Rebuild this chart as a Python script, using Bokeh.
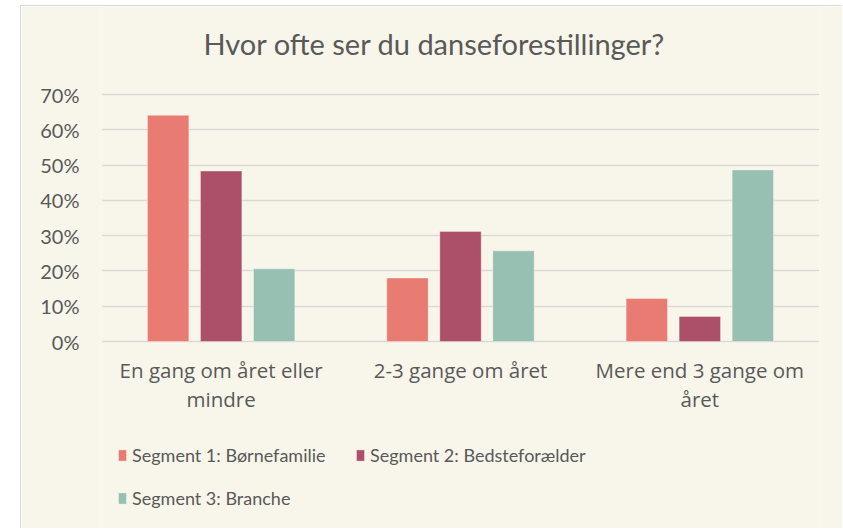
from bokeh.plotting import figure
from bokeh.models import (FactorRange, Range1d, NumeralTickFormatter, FixedTicker,
                          Legend, LegendItem, ColumnDataSource, Label)
from bokeh.transform import dodge
from bokeh.core.properties import value
from bokeh.embed import file_html
from bokeh.resources import INLINE

# ---- data ----
title_text = "Hvor ofte ser du danseforestillinger?"
categories = ["En gang om året eller\nmindre", "2-3 gange om året", "Mere end 3 gange om\nåret"]
series_names = ["Segment 1: Børnefamilie", "Segment 2: Bedsteforælder", "Segment 3: Branche"]
seg1 = [0.641, 0.180, 0.122]
seg2 = [0.483, 0.312, 0.071]
seg3 = [0.206, 0.257, 0.486]
y_ticks = [0.0, 0.1, 0.2, 0.3, 0.4, 0.5, 0.6, 0.7]

colors = ["#E97C72", "#AC5069", "#98C0B2"]
BG = "#F8F6EA"
TXT = "#595959"
GRID = "#D9D9D9"

# ---- layout (pixels) ----
W, H = 822, 523
LEFT, RIGHT = 80, 24
ABOVE_PX = 88           # space above the 70% line (title area)
VALUE_PX = 247          # pixel height of the 0..70% value area
BELOW_PX = H - ABOVE_PX - VALUE_PX   # space below 0% for category labels + legend
y_max_val = 0.7
px_per_unit = VALUE_PX / y_max_val
y_lo = -BELOW_PX / px_per_unit
y_hi = y_max_val + ABOVE_PX / px_per_unit
label_y = -14 / px_per_unit   # category labels sit just under the baseline

source = ColumnDataSource(dict(cat=categories, s1=seg1, s2=seg2, s3=seg3))

p = figure(x_range=FactorRange(*categories), y_range=Range1d(y_lo, y_hi),
           width=W, height=H, output_backend="svg", toolbar_location=None,
           x_axis_location=None,
           min_border_left=LEFT, min_border_right=RIGHT, min_border_top=0, min_border_bottom=0)
p.margin = (5, 0, 0, 20)
p.styles = {"border-left": "1px solid #D9D9D9", "border-top": "1px solid #D9D9D9"}

p.background_fill_color = BG
p.border_fill_color = BG
p.outline_line_color = None

p.add_layout(Label(x=333, y=H - 37, x_units="screen", y_units="screen", text=title_text,
                   text_align="center", text_baseline="middle", text_font="Lato",
                   text_font_size="29px", text_color=TXT))

offsets = [-0.2215, 0.0, 0.2215]
cols = ["s1", "s2", "s3"]
renderers = []
for col, off, c in zip(cols, offsets, colors):
    r = p.vbar(x=dodge("cat", off, range=p.x_range), top=col, width=0.173, source=source,
               fill_color=c, line_color="#FFFFFF", line_alpha=0.35, line_width=1)
    renderers.append(r)

# category labels under the baseline
p.text(x=categories, y=[label_y] * len(categories), text=categories,
       text_align="center", text_baseline="top", text_font=value("Open Sans"),
       text_font_size="20.5px", text_color=TXT, text_line_height=1.06)

# axes
p.yaxis.ticker = FixedTicker(ticks=y_ticks)
p.yaxis.bounds = (0, y_max_val)
p.yaxis.formatter = NumeralTickFormatter(format="0%")
p.yaxis.axis_line_color = None
p.yaxis.axis_line_alpha = 0
p.yaxis.major_tick_line_color = None
p.yaxis.minor_tick_line_color = None
p.yaxis.major_tick_out = 0
p.yaxis.major_label_standoff = 22
p.yaxis.major_label_text_font = "Lato"
p.yaxis.major_label_text_font_size = "20px"
p.yaxis.major_label_text_color = TXT

p.xgrid.grid_line_color = None
p.ygrid.grid_line_color = GRID
p.ygrid.grid_line_width = 1.3

# legends
def make_legend(items, loc):
    lg = Legend(items=items, location=loc, orientation="horizontal",
                padding=0, margin=0, spacing=23, glyph_width=10, glyph_height=14,
                label_standoff=5, label_width=200, border_line_color=None,
                background_fill_alpha=0,
                label_text_font="Lato", label_text_font_size="18px",
                label_text_color=TXT)
    p.add_layout(lg, "center")

make_legend([LegendItem(label=series_names[0], renderers=[renderers[0]]),
             LegendItem(label=series_names[1], renderers=[renderers[1]])], (16, 63))
make_legend([LegendItem(label=series_names[2], renderers=[renderers[2]])], (16, 20))

open("out.html", "w").write(file_html(p, INLINE))
